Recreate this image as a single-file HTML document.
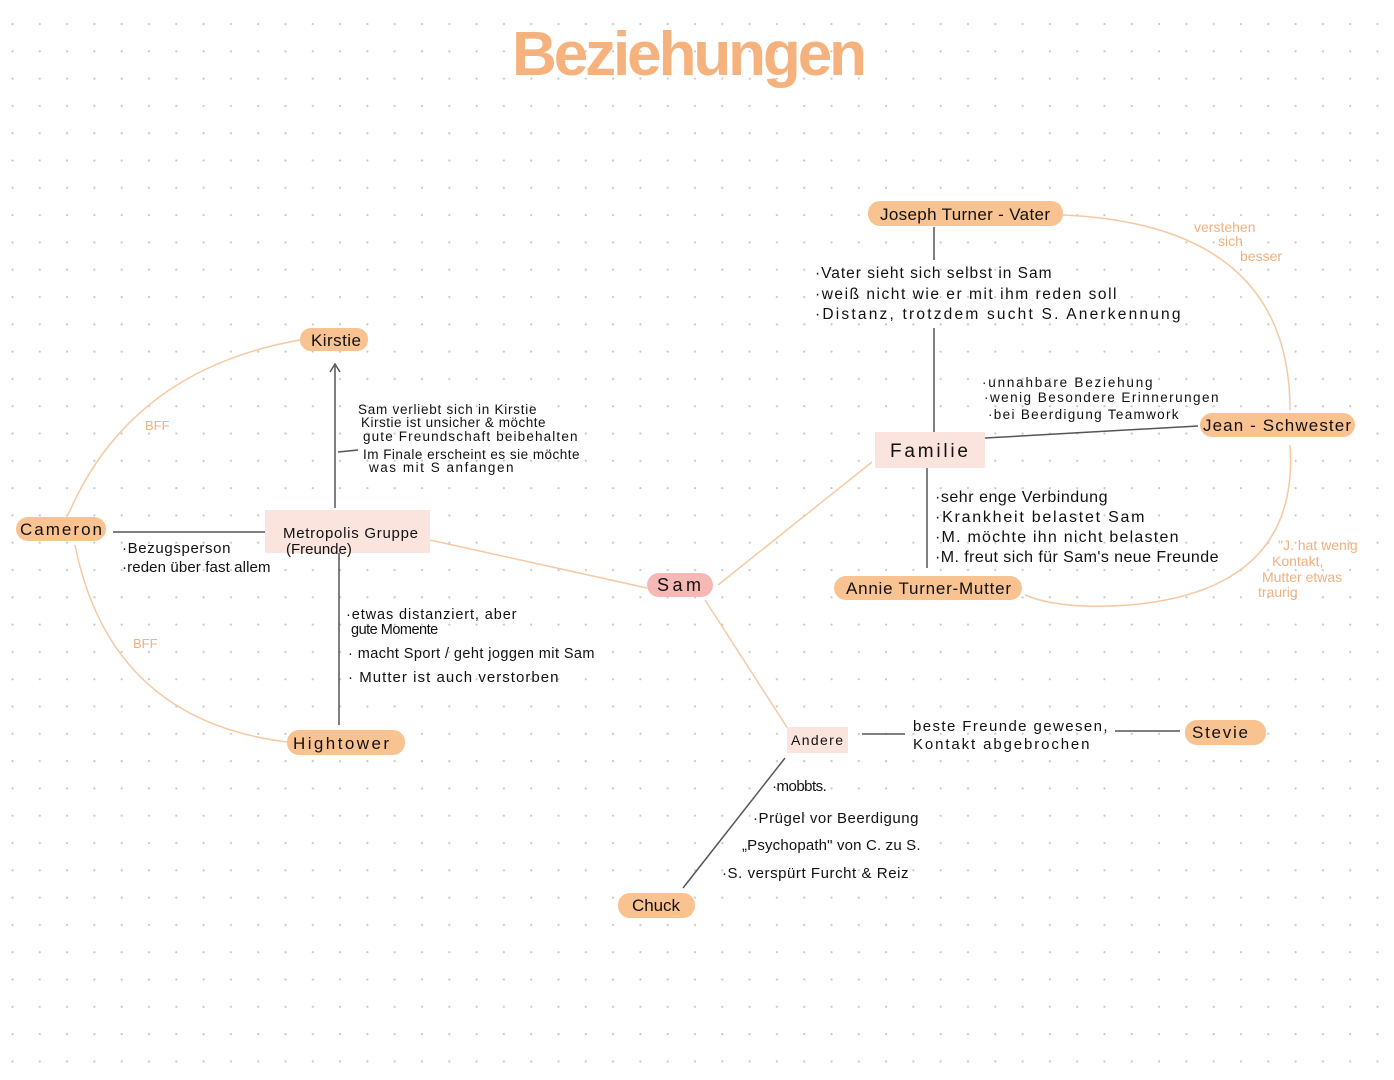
<!DOCTYPE html>
<html><head><meta charset="utf-8"><style>
body{margin:0;width:1394px;height:1080px;overflow:hidden;background:#fff;}
svg{display:block}
text{font-family:"Liberation Sans",sans-serif;fill:#111;}
.o{fill:#f2b07e}
</style></head><body>
<svg width="1394" height="1080" viewBox="0 0 1394 1080">
<defs><pattern id="d" x="0" y="10" width="27.3" height="27.3" patternUnits="userSpaceOnUse"><circle cx="12.5" cy="14" r="1.1" fill="#c8c8c8"/></pattern></defs>
<rect width="1394" height="1080" fill="url(#d)"/>
<text x="512" y="75" font-size="62" textLength="355" font-weight="bold" style="fill:#f6b27c">Beziehungen</text>

<g stroke="#f6c9a2" stroke-width="1.5" fill="none">
<path d="M430 540 L647 588"/>
<path d="M718 585 L872 462"/>
<path d="M705 600 L792 735"/>
<path d="M300 340 Q130 370 68 515"/>
<path d="M75 545 Q110 720 287 742"/>
<path d="M1063 215 Q1290 225 1290 410"/>
<path d="M1290 445 Q1300 590 1130 605 Q1060 610 1025 595"/>
</g>
<g stroke="#555" stroke-width="1.5" fill="none">
<path d="M335 508 L335 366 M330 372 L335 364 L340 372"/>
<path d="M113 532 L265 532"/>
<path d="M339 553 L339 725"/>
<path d="M934 227 L934 260 M934 328 L934 432"/>
<path d="M927 468 L927 568"/>
<path d="M985 438 L1198 426"/>
<path d="M862 734 L905 734 M1115 731 L1180 731"/>
<path d="M785 758 L683 888"/>
<path d="M338 452 L358 450"/>
</g>

<g fill="#f9c291">
<rect x="300" y="328" width="68" height="23" rx="11"/>
<rect x="16" y="517" width="90" height="24" rx="12"/>
<rect x="287" y="730" width="118" height="25" rx="12"/>
<rect x="868" y="201" width="195" height="25" rx="12"/>
<rect x="1200" y="413" width="155" height="24" rx="12"/>
<rect x="834" y="576" width="188" height="24" rx="12"/>
<rect x="1185" y="720" width="81" height="25" rx="12"/>
<rect x="618" y="893" width="77" height="25" rx="12"/>
</g>
<rect x="647" y="573" width="66" height="24" rx="12" fill="#f6b8b4"/>
<rect x="265" y="510" width="165" height="43" fill="#fbe4dd"/>
<rect x="875" y="432" width="110" height="36" fill="#fbe4dd"/>
<rect x="787" y="727" width="61" height="26" fill="#fbe4dd"/>

<g font-size="17">
<text x="311" y="346" textLength="50">Kirstie</text>
<text x="20" y="535" textLength="82">Cameron</text>
<text x="293" y="749" textLength="96">Hightower</text>
<text x="880" y="220" textLength="170">Joseph Turner - Vater</text>
<text x="1203" y="431" textLength="148">Jean - Schwester</text>
<text x="846" y="594" textLength="165">Annie Turner-Mutter</text>
<text x="1192" y="738" textLength="56">Stevie</text>
<text x="632" y="911" textLength="48">Chuck</text>
<text x="657" y="591" font-size="18" textLength="44">Sam</text>
<text x="890" y="457" font-size="19" textLength="78">Familie</text>
<text x="283" y="538" font-size="15" textLength="135">Metropolis Gruppe</text>
<text x="286" y="554" font-size="15">(Freunde)</text>
<text x="791" y="745" font-size="14" textLength="52">Andere</text>
</g>

<g font-size="13.5" letter-spacing="-0.5">
<text x="358" y="414" textLength="178">Sam verliebt sich in Kirstie</text>
<text x="361" y="427" textLength="184">Kirstie ist unsicher &amp; möchte</text>
<text x="363" y="441" textLength="214">gute Freundschaft beibehalten</text>
<text x="363" y="459" textLength="216">Im Finale erscheint es sie möchte</text>
<text x="369" y="472" textLength="144">was mit S anfangen</text>
<text x="122" y="553" font-size="15" textLength="108">·Bezugsperson</text>
<text x="122" y="572" font-size="15" textLength="148">·reden über fast allem</text>
<text x="346" y="619" font-size="14.5" textLength="170">·etwas distanziert, aber</text>
<text x="351" y="634" font-size="14.5">gute Momente</text>
<text x="348" y="658" font-size="14.5" textLength="246">· macht Sport / geht joggen mit Sam</text>
<text x="348" y="682" font-size="15" textLength="210">· Mutter ist auch verstorben</text>
<text x="815" y="278" font-size="15.5" textLength="236">·Vater sieht sich selbst in Sam</text>
<text x="815" y="299" font-size="15.5" textLength="301">·weiß nicht wie er mit ihm reden soll</text>
<text x="815" y="319" font-size="15.5" textLength="365">·Distanz, trotzdem sucht S. Anerkennung</text>
<text x="982" y="387" textLength="170">·unnahbare Beziehung</text>
<text x="984" y="402" textLength="234">·wenig Besondere Erinnerungen</text>
<text x="988" y="419" textLength="190">·bei Beerdigung Teamwork</text>
<text x="935" y="502" font-size="16" textLength="172">·sehr enge Verbindung</text>
<text x="935" y="522" font-size="16" textLength="209">·Krankheit belastet Sam</text>
<text x="935" y="542" font-size="16" textLength="243">·M. möchte ihn nicht belasten</text>
<text x="935" y="562" font-size="16" textLength="283">·M. freut sich für Sam's neue Freunde</text>
<text x="913" y="731" font-size="15" textLength="194">beste Freunde gewesen,</text>
<text x="913" y="749" font-size="15" textLength="176">Kontakt abgebrochen</text>
<text x="772" y="791" font-size="15">·mobbts.</text>
<text x="753" y="823" font-size="15" textLength="165">·Prügel vor Beerdigung</text>
<text x="742" y="850" font-size="15" textLength="178">„Psychopath" von C. zu S.</text>
<text x="722" y="878" font-size="15" textLength="186">·S. verspürt Furcht &amp; Reiz</text>
</g>
<g font-size="14" style="fill:#f2b07e">
<text x="1194" y="232" class="o">verstehen</text>
<text x="1218" y="246" class="o">sich</text>
<text x="1240" y="261" class="o">besser</text>
<text x="145" y="430" class="o" font-size="13">BFF</text>
<text x="133" y="648" class="o" font-size="13">BFF</text>
<text x="1278" y="550" class="o">"J. hat wenig</text>
<text x="1272" y="566" class="o">Kontakt,</text>
<text x="1262" y="582" class="o">Mutter etwas</text>
<text x="1258" y="597" class="o">traurig</text>
</g>
</svg>
</body></html>
